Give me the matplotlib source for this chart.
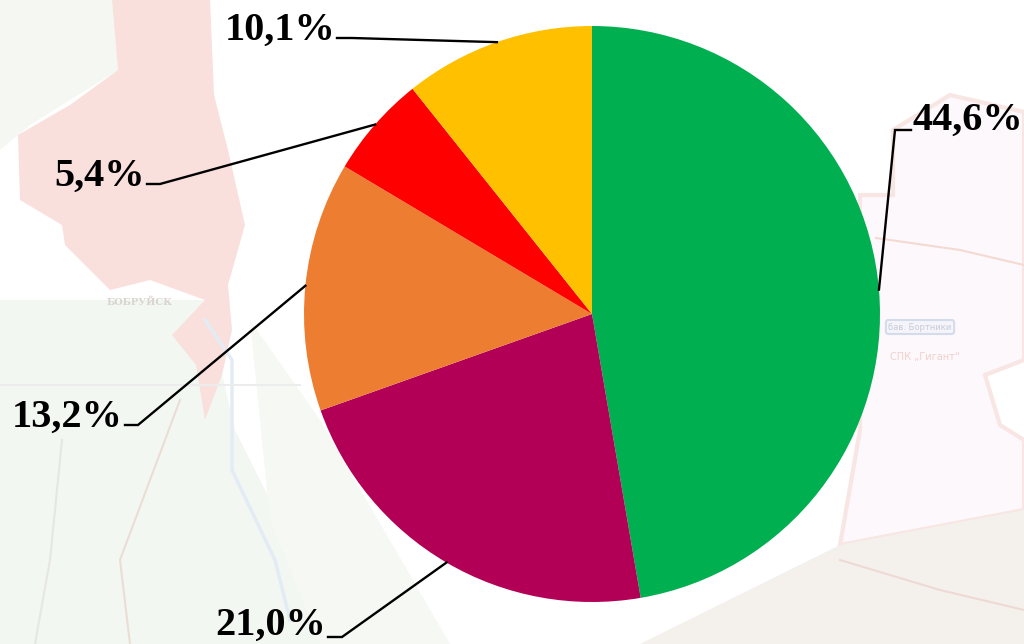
import numpy as np
import matplotlib
matplotlib.use("Agg")
import matplotlib.pyplot as plt
from matplotlib.patches import Polygon

# pie data, as printed on the labels (the pie normalises them)
labels = ["44,6%", "21,0%", "13,2%", "5,4%", "10,1%"]
values = [44.6, 21.0, 13.2, 5.4, 10.1]
colors = ["#00B050", "#B20056", "#ED7D31", "#FF0000", "#FFC000"]

# label anchors (right edge of text, baseline) and leader elbow, in image pixels
label_pos = [(1023, 130), (326, 635), (123, 427), (145, 186), (335, 40)]
elbow_pos = [(895, 130), (342, 637), (138, 425), (160, 184), (352, 38)]
stub_pos = [(911, 130), (328, 637), (125, 425), (147, 184), (337, 38)]

cx, cy, r = 592, 314, 288

# faded map behind the chart
city = [(112, 0), (210, 0), (214, 95), (228, 150), (245, 225), (228, 285), (232, 330), (222, 375),
        (205, 420), (196, 365), (172, 335), (205, 300), (150, 280), (110, 290), (65, 245), (62, 225),
        (20, 200), (18, 135), (70, 105), (118, 70)]
west = [(0, 0), (112, 0), (118, 70), (30, 125), (0, 150)]
fields = [(0, 300), (205, 300), (235, 430), (300, 560), (330, 644), (0, 644)]
fields2 = [(250, 320), (320, 420), (450, 644), (320, 644), (270, 520)]
south = [(640, 644), (840, 545), (1024, 510), (1024, 644)]
farm = [(860, 195), (893, 195), (893, 130), (950, 95), (1024, 112), (1024, 360), (985, 375),
        (1000, 425), (1024, 440), (1024, 510), (840, 545), (860, 430)]
river = [(205, 320), (232, 360), (232, 470), (275, 560), (290, 620)]
road = [(62, 440), (50, 560), (35, 644)]
road2 = [(180, 400), (120, 560), (130, 644)]
road3 = [(876, 238), (960, 250), (1024, 265)]
road4 = [(840, 560), (940, 590), (1024, 610)]
hline = [(0, 385), (300, 385)]


def px(p):
    return p[0], 644 - p[1]


fig = plt.figure(figsize=(10.24, 6.44), dpi=100)
ax = fig.add_axes([0, 0, 1, 1])

ax.add_patch(Polygon([px(p) for p in west], fc="#F4F7F2", ec="none", zorder=0))
ax.add_patch(Polygon([px(p) for p in fields], fc="#F3F7F1", ec="none", zorder=0))
ax.add_patch(Polygon([px(p) for p in fields2], fc="#F5F8F3", ec="none", zorder=0))
ax.add_patch(Polygon([px(p) for p in farm], fc="#FDF8FB", ec="#F8E6E4", lw=3, zorder=0))
ax.add_patch(Polygon([px(p) for p in south], fc="#F4F1EC", ec="none", zorder=0))
ax.add_patch(Polygon([px(p) for p in city], fc="#F9E0DC", ec="none", zorder=0))
ax.plot(*zip(*[px(p) for p in river]), color="#E3ECF4", lw=2.5, zorder=1)
for line, col in [(road, "#E6E6E2"), (road2, "#EBDDD6"), (road3, "#F4DAD2"), (road4, "#EFD9D4"), (hline, "#ECECEC")]:
    ax.plot(*zip(*[px(p) for p in line]), color=col, lw=1.5, zorder=1)
ax.text(140, 644 - 302, "БОБРУЙСК", ha="center", va="center", fontsize=7, fontweight="bold",
        family="DejaVu Serif", color="#D8D4D0", zorder=1)
ax.text(925, 644 - 357, "СПК „Гигант“", ha="center", va="center", fontsize=7,
        family="DejaVu Sans", color="#F0D0CC", zorder=1)
ax.text(920, 644 - 327, "бав. Бортники", ha="center", va="center", fontsize=6, color="#C8CCD8", zorder=1,
        bbox=dict(boxstyle="round,pad=0.3", fc="#F4F4FA", ec="#D4DCEC", lw=1.5))

wedges, _ = ax.pie(values, colors=colors, startangle=90, counterclock=False,
                   center=(cx, 644 - cy), radius=r, frame=True)

for w, lab, lp, el, st in zip(wedges, labels, label_pos, elbow_pos, stub_pos):
    # leader starts on the rim at the middle of the wedge
    a = np.deg2rad((w.theta1 + w.theta2) / 2)
    start = (cx + r * np.cos(a), 644 - cy + r * np.sin(a))
    xs = [start[0], el[0], st[0]]
    ys = [start[1], 644 - el[1], 644 - st[1]]
    ax.plot(xs, ys, color="black", lw=1.7, zorder=5, solid_joinstyle="miter")
    ax.text(lp[0], 644 - lp[1], lab, ha="right", va="baseline", fontsize=29,
            fontweight="bold", family="Liberation Serif", color="black", zorder=6)

ax.set_xlim(0, 1024)
ax.set_ylim(0, 644)
ax.axis("off")
fig.savefig("out.png", dpi=100)
